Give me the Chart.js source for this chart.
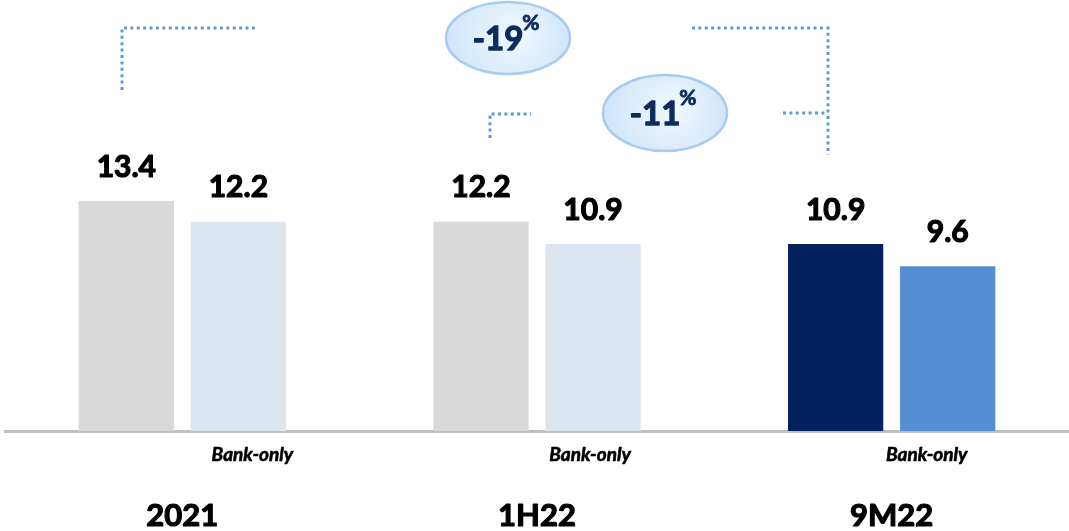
<!DOCTYPE html>
<html>
<head>
<meta charset="utf-8">
<script src="https://cdn.jsdelivr.net/npm/chart.js@4.4.0/dist/chart.umd.min.js"></script>
<style>
  html, body { margin: 0; padding: 0; background: #fff; }
  #wrap { width: 1069px; height: 531px; }
</style>
</head>
<body>
<div id="wrap"><canvas id="cost-chart"></canvas></div>
<script>
// periods and the two series (group vs bank-only)
const periods = ['2021', '1H22', '9M22'];
const groupValues = [13.4, 12.2, 10.9];
const bankOnlyValues = [12.2, 10.9, 9.6];
const subLabel = 'Bank-only';

const groupColors = ['#d9d9d9', '#d9d9d9', '#03215f'];
const bankColors = ['#dce6f1', '#dce6f1', '#558ed5'];

const FONT = 'Lato, "Open Sans", sans-serif';
const NAVY = '#0d2a5e';
const DOT = '#5b9bd5';

// % change, rounded
const pct = (a, b) => Math.round((b / a - 1) * 100);

// filled text with a thin outline so it reads heavier
function heavyText(ctx, txt, x, y, w) {
  ctx.lineWidth = w;
  ctx.lineJoin = 'round';
  ctx.strokeStyle = ctx.fillStyle;
  ctx.strokeText(txt, x, y);
  ctx.fillText(txt, x, y);
}

// values above bars, category + Bank-only labels under the axis
const labelPlugin = {
  id: 'labels',
  afterDatasetsDraw(chart) {
    const ctx = chart.ctx;
    ctx.save();
    ctx.fillStyle = '#000';
    ctx.textAlign = 'center';
    ctx.textBaseline = 'middle';
    ctx.font = 'bold 30px ' + FONT;
    chart.data.datasets.forEach((ds, di) => {
      chart.getDatasetMeta(di).data.forEach((bar, i) => {
        heavyText(ctx, ds.data[i].toFixed(1), bar.x, bar.y - 34, 1.2);
      });
    });
    const x = chart.scales.x;
    const bankMeta = chart.getDatasetMeta(1).data;
    const shift = [14, -3, -21];
    ctx.font = 'italic bold 19px ' + FONT;
    bankMeta.forEach((bar, i) => heavyText(ctx, subLabel, bar.x + shift[i], 455, 0.6));
    ctx.font = 'bold 31px ' + FONT;
    periods.forEach((p, i) => heavyText(ctx, p, x.getPixelForValue(i), 516, 1.2));
    ctx.restore();
  }
};

// dotted brackets and the change bubbles
const bubblePlugin = {
  id: 'bubbles',
  afterDraw(chart) {
    const ctx = chart.ctx;
    ctx.save();
    ctx.strokeStyle = DOT;
    ctx.lineWidth = 3;
    ctx.setLineDash([3, 3.4]);
    const path = pts => {
      ctx.beginPath();
      ctx.moveTo(pts[0][0], pts[0][1]);
      pts.slice(1).forEach(p => ctx.lineTo(p[0], p[1]));
      ctx.stroke();
    };
    path([[122, 90], [122, 28], [256, 28]]);
    path([[692, 28], [828, 28], [828, 155]]);
    path([[490, 138], [490, 114], [531, 114]]);
    path([[783, 113], [826, 113]]);
    ctx.setLineDash([]);

    const bubble = (cx, cy, rx, ry, value) => {
      const g = ctx.createRadialGradient(cx + 10, cy - 5, 5, cx, cy, rx);
      g.addColorStop(0, '#eef7fe');
      g.addColorStop(1, '#cfe5fa');
      ctx.beginPath();
      ctx.ellipse(cx, cy, rx, ry, 0, 0, Math.PI * 2);
      ctx.fillStyle = g;
      ctx.fill();
      ctx.lineWidth = 2.5;
      ctx.strokeStyle = '#a8ccef';
      ctx.stroke();
      ctx.fillStyle = NAVY;
      ctx.textBaseline = 'alphabetic';
      ctx.textAlign = 'center';
      ctx.font = 'bold 33px ' + FONT;
      const txt = String(value);
      const w = ctx.measureText(txt).width;
      heavyText(ctx, txt, cx - 10, cy + 12, 1.3);
      ctx.font = 'bold 21px ' + FONT;
      ctx.textAlign = 'left';
      heavyText(ctx, '%', cx - 10 + w / 2 - 1, cy - 8, 0.8);
    };
    bubble(508, 38, 62, 36, pct(groupValues[0], groupValues[2]));
    bubble(665, 113, 62, 38, pct(groupValues[1], groupValues[2]));
    ctx.restore();
  }
};

new Chart(document.getElementById('cost-chart'), {
  type: 'bar',
  data: {
    labels: periods,
    datasets: [
      { label: 'Group', data: groupValues, backgroundColor: groupColors },
      { label: subLabel, data: bankOnlyValues, backgroundColor: bankColors }
    ]
  },
  options: {
    responsive: true,
    maintainAspectRatio: false,
    animation: false,
    events: [],
    layout: { padding: { left: 5, top: 2, right: 0, bottom: 0 } },
    categoryPercentage: 0.632,
    barPercentage: 0.85,
    plugins: { legend: { display: false }, tooltip: { enabled: false } },
    scales: {
      x: {
        grid: { display: false },
        ticks: { display: false },
        border: { display: true, color: '#bfbfbf', width: 3 },
        afterFit: s => { s.height = 100; }
      },
      y: { display: false, min: 0, max: 25 }
    }
  },
  plugins: [labelPlugin, bubblePlugin]
});
</script>
</body>
</html>
